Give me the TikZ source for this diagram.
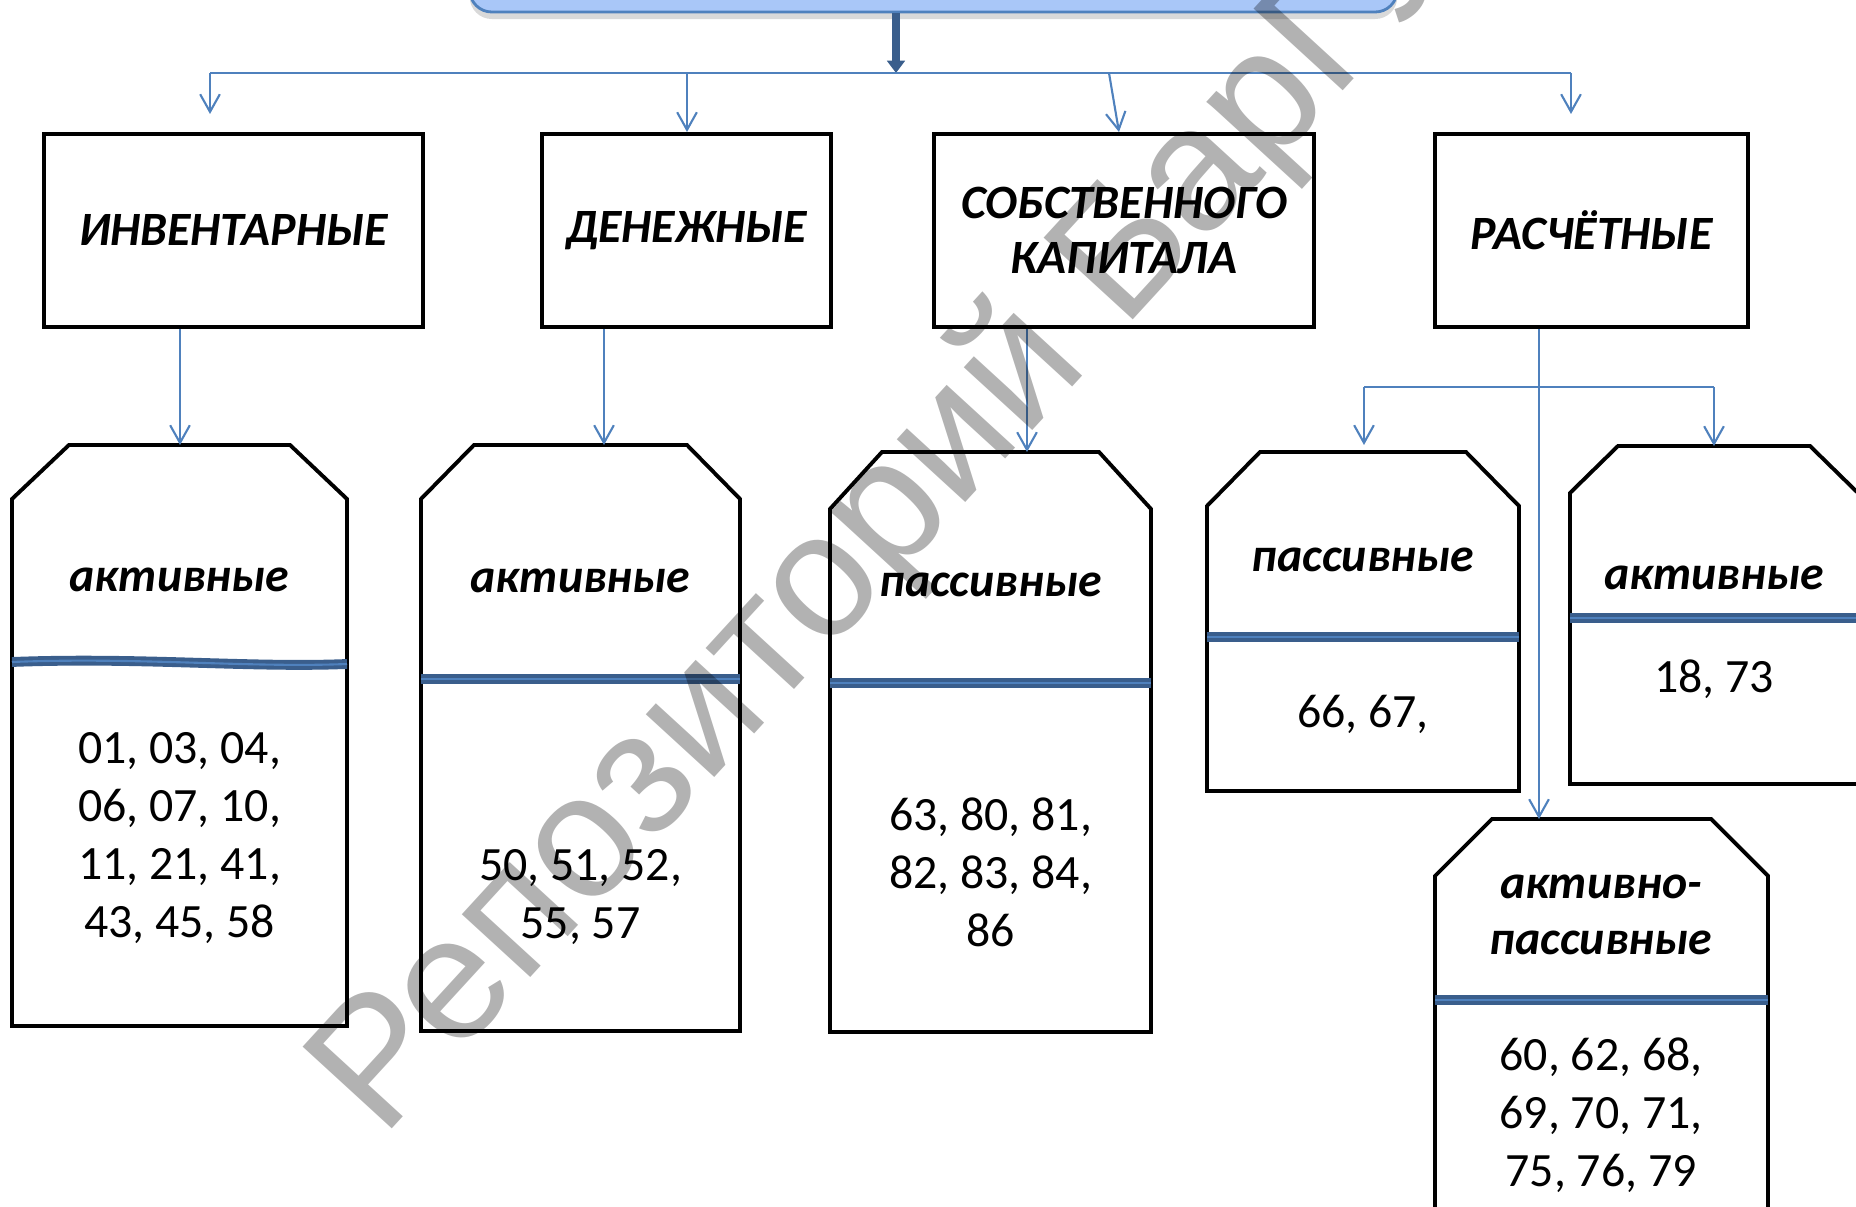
\documentclass[tikz,border=0pt]{standalone}
\usepackage{fontspec}
\setmainfont{Carlito}
\newfontfamily\stampfont{Liberation Sans}
\usetikzlibrary{arrows.meta,calc,shadows}

\definecolor{linkblue}{RGB}{79,129,189}
\definecolor{sepblue}{RGB}{58,94,140}
\definecolor{headfill}{RGB}{169,199,248}

\begin{document}
\begin{tikzpicture}[x=0.01cm,y=-0.01cm,
    kind/.style={draw,line width=1.1pt,minimum width=#1,minimum height=1.93cm,
      align=center,font=\bfseries\itshape\fontsize{13.6}{15.6}\selectfont},
    pocket/.style={draw,line width=1.1pt,line join=miter},
    sep/.style={draw=sepblue,line width=1.1pt,double=linkblue,double distance=0.6pt},
    tag/.style={align=center,font=\bfseries\itshape\fontsize{13.6}{15.8}\selectfont},
    nums/.style={align=center,font=\fontsize{13.6}{16.5}\selectfont},
    link/.style={draw=linkblue,line width=0.6pt},
    arrow/.style={link,-{Straight Barb[length=5pt,width=5.6pt]}},
    trunk/.style={draw=sepblue,line width=2pt,-{Triangle[length=3.5pt,width=5pt]}}]

  \useasboundingbox (0,0) rectangle (1856,1207);

  % head of the scheme
  \node[draw=linkblue,line width=0.8pt,fill=headfill,rounded corners=0.22cm,
        minimum width=9.27cm,minimum height=0.84cm,
        drop shadow={shadow xshift=0pt,shadow yshift=-0.07cm,opacity=.3}]
        (head) at (933.5,-30) {};

  \coordinate (hub) at (896,73);
  \draw[trunk] (hub |- head.south) -- (hub);

  % bus
  \coordinate (b1) at (210,73);
  \coordinate (b2) at (687,73);
  \coordinate (b3) at (1109,73);
  \coordinate (b4) at (1571,73);
  \draw[link] (b1) -- (b4);

  % first level
  \node[kind=3.79cm] (inv)     at (233.5,230.5) {ИНВЕНТАРНЫЕ};
  \node[kind=2.89cm] (money)   at (686.5,230.5) {ДЕНЕЖНЫЕ};
  \node[kind=3.80cm] (capital) at (1124,230.5)  {СОБСТВЕННОГО\\КАПИТАЛА};
  \node[kind=3.13cm] (settle)  at (1591.5,230.5) {РАСЧЁТНЫЕ};

  \draw[arrow,shorten >=0.18cm] (b1) -- (b1 |- inv.north);
  \draw[arrow] (b2) -- (b2 |- money.north);
  \draw[arrow] (b3) -- ([xshift=-0.05cm]capital.north);
  \draw[arrow,shorten >=0.18cm] (b4) -- (b4 |- settle.north);

  % second level: name/left/right/top/bottom/chamfer x/chamfer y/separator/arrow x
  \foreach \nm/\lx/\rx/\ty/\by/\cx/\cy/\sy/\ax in
     {A/12/347/445/1026/57/54/663/180,
      B/421/740/445/1031/53/54/679/604,
      C/830/1151/452/1032/52/57/683/1027,
      D/1207/1519/452/791/53/54/637/1364,
      E/1570/1858/446/784/48/47/618/1714,
      F/1435/1768/819/1240/57/57/1000/1539}
  {
    \draw[pocket] (\lx,\by) -- (\lx,\ty+\cy) -- (\lx+\cx,\ty) -- (\rx-\cx,\ty)
                  -- (\rx,\ty+\cy) -- (\rx,\by) -- cycle;
    \coordinate (\nm top) at (\ax,\ty);
  }
  \draw[sep] (12,662) .. controls (140,657) and (250,668) .. (347,664);
  \foreach \lx/\rx/\sy in {421/740/679, 830/1151/683, 1207/1519/637,
                           1570/1858/618, 1435/1768/1000}
    \draw[sep] (\lx,\sy) -- (\rx,\sy);

  \node[tag]  (Atag) at (179.5,580) {активные};
  \node[nums] (Anum) at (179.5,838) {01, 03, 04,\\06, 07, 10,\\11, 21, 41,\\43, 45, 58};

  \node[tag]  (Btag) at (580.5,581) {активные};
  \node[nums] (Bnum) at (580.5,897) {50, 51, 52,\\55, 57};

  \node[tag]  (Ctag) at (990.5,585) {пассивные};
  \node[nums] (Cnum) at (990.5,872) {63, 80, 81,\\82, 83, 84,\\86};

  \node[tag]  (Dtag) at (1363,560) {пассивные};
  \node[nums] (Dnum) at (1363,714) {66, 67,};

  \node[tag]  (Etag) at (1714,578) {активные};
  \node[nums] (Enum) at (1714,679) {18, 73};

  \node[tag]  (Ftag) at (1601,915) {активно-\\пассивные};
  \node[nums] (Fnum) at (1601,1115) {60, 62, 68,\\69, 70, 71,\\75, 76, 79};

  % first level to second level
  \draw[arrow] (Atop |- inv.south) -- (Atop);
  \draw[arrow] (Btop |- money.south) -- (Btop);
  \draw[arrow] (Ctop |- capital.south) -- (Ctop);
  \draw[arrow] (Ftop |- settle.south) -- (Ftop);

  \coordinate (fork) at (1539,387);
  \draw[link] (Dtop |- fork) -- (Etop |- fork);
  \draw[arrow,shorten >=0.07cm] (Dtop |- fork) -- (Dtop);
  \draw[arrow] (Etop |- fork) -- (Etop);

  % repository stamp
  \node[anchor=base west,rotate=47.5,inner sep=0pt,text=black,text opacity=.3,
        font=\stampfont\fontsize{50}{60}\selectfont] (stamp) at (382,1140)
        {Репозиторий БарГУ};
\end{tikzpicture}
\end{document}
